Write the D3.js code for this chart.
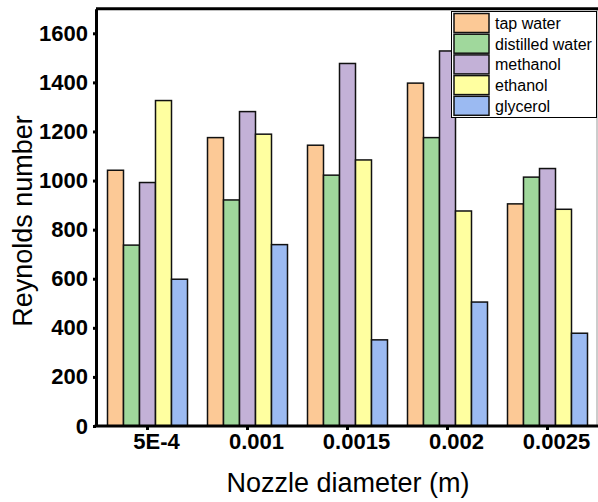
<!DOCTYPE html>
<html>
<head>
<meta charset="utf-8">
<script src="https://cdn.jsdelivr.net/npm/d3@7"></script>
<style>
  body { margin: 0; background: #fff; }
  svg { display: block; font-family: "Liberation Sans", Arial, sans-serif; }
</style>
</head>
<body>
<svg id="chart" width="598" height="502"></svg>
<script>
// data
var diameters = ["5E-4", "0.001", "0.0015", "0.002", "0.0025"];
var liquids = ["tap water", "distilled water", "methanol", "ethanol", "glycerol"];
var colours = ["#FCC996", "#A0D89C", "#C3B1D7", "#FFFFA0", "#9BBAF2"];
var tapWater = [1042, 1175, 1144, 1397, 905];
var distilledWater = [737, 921, 1022, 1175, 1014];
var methanol = [992, 1281, 1477, 1528, 1049];
var ethanol = [1326, 1189, 1084, 876, 883];
var glycerol = [598, 739, 351, 505, 378];
var yTicks = [0, 200, 400, 600, 800, 1000, 1200, 1400, 1600];

var series = [tapWater, distilledWater, methanol, ethanol, glycerol];

var svg = d3.select("#chart");

var x0 = d3.scaleBand()
    .domain(diameters)
    .range([97.5, 597.5])
    .paddingInner(0.2)
    .paddingOuter(0.1);

var x1 = d3.scaleBand()
    .domain(liquids)
    .range([0, x0.bandwidth()]);

var y = d3.scaleLinear()
    .domain([0, 1700])
    .range([426, 8.75]);

var colour = d3.scaleOrdinal().domain(liquids).range(colours);

// bars
var groups = svg.append("g")
    .selectAll("g")
    .data(diameters)
    .enter()
    .append("g")
    .attr("transform", function(d) { return "translate(" + x0(d) + ",0)"; });

groups.selectAll("rect")
    .data(function(d, i) {
        return liquids.map(function(l, j) { return {liquid: l, value: series[j][i]}; });
    })
    .enter()
    .append("rect")
    .attr("x", function(d) { return x1(d.liquid); })
    .attr("y", function(d) { return y(d.value); })
    .attr("width", x1.bandwidth())
    .attr("height", function(d) { return y(0) - y(d.value); })
    .attr("fill", function(d) { return colour(d.liquid); })
    .attr("stroke", "#111")
    .attr("stroke-width", 1.5);

// frame: thin right edge, thick top
svg.append("line")
    .attr("x1", 597).attr("x2", 597)
    .attr("y1", y.range()[1]).attr("y2", y(0))
    .attr("stroke", "#999").attr("stroke-width", 1);

svg.append("line")
    .attr("x1", 96).attr("x2", 598)
    .attr("y1", y.range()[1]).attr("y2", y.range()[1])
    .attr("stroke", "#000").attr("stroke-width", 3);

// axes
var yAxis = svg.append("g")
    .attr("transform", "translate(96,0)")
    .call(d3.axisLeft(y).tickValues(yTicks).tickFormat(d3.format("d"))
        .tickSize(3).tickPadding(5).tickSizeOuter(0));

yAxis.select(".domain").attr("stroke-width", 3);
yAxis.selectAll(".tick line").attr("stroke-width", 3);
yAxis.selectAll("text")
    .attr("fill", "#000")
    .style("font-size", "22px")
    .style("font-weight", "bold");

var xAxis = svg.append("g")
    .attr("transform", "translate(0," + y(0) + ")")
    .call(d3.axisBottom(x0).tickSize(4).tickPadding(3).tickSizeOuter(0));

xAxis.select(".domain").attr("d", "M94.5,0H598").attr("stroke-width", 3);
xAxis.selectAll(".tick line").attr("stroke-width", 3);
xAxis.selectAll("text")
    .attr("fill", "#000")
    .attr("dx", 9)
    .style("font-size", "22px")
    .style("font-weight", "bold");

// axis titles
svg.append("text")
    .attr("transform", "translate(32,221) rotate(-90)")
    .attr("text-anchor", "middle")
    .style("font-size", "27px")
    .text("Reynolds number");

svg.append("text")
    .attr("x", 348)
    .attr("y", 492)
    .attr("text-anchor", "middle")
    .style("font-size", "27px")
    .text("Nozzle diameter (m)");

// legend
var legend = svg.append("g");

legend.append("rect")
    .attr("x", 451.5).attr("y", 11.5)
    .attr("width", 145).attr("height", 106)
    .attr("fill", "#fff")
    .attr("stroke", "#000").attr("stroke-width", 1);

var items = legend.selectAll(".item")
    .data(liquids)
    .enter()
    .append("g")
    .attr("class", "item")
    .attr("transform", function(d, i) { return "translate(454," + (13.5 + i * 20.7) + ")"; });

items.append("rect")
    .attr("width", 35)
    .attr("height", 19)
    .attr("fill", function(d) { return colour(d); })
    .attr("stroke", "#111")
    .attr("stroke-width", 1.5);

items.append("text")
    .attr("x", 41)
    .attr("y", 15.5)
    .style("font-size", "16px")
    .text(function(d) { return d; });
</script>
</body>
</html>
